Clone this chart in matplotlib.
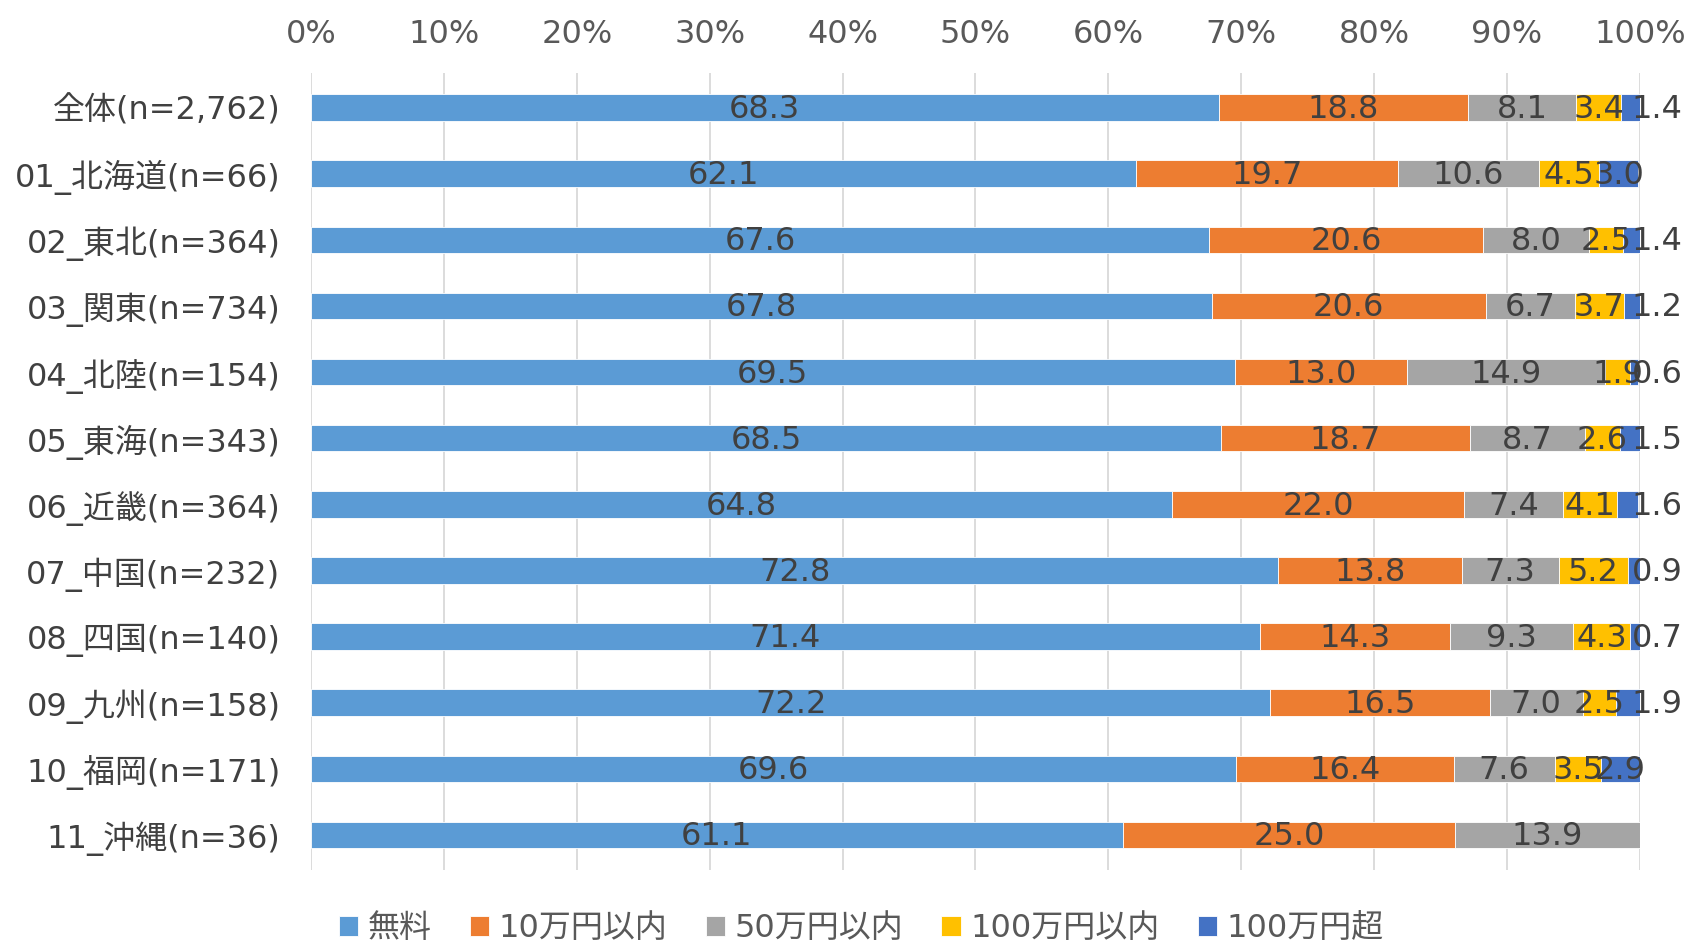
import matplotlib.pyplot as plt
import numpy as np

# DejaVu for Latin text, Noto CJK for the Japanese glyphs
plt.rcParams['font.family'] = ['DejaVu Sans', 'Noto Sans CJK JP']

regions = ["全体(n=2,762)", "01_北海道(n=66)", "02_東北(n=364)", "03_関東(n=734)",
           "04_北陸(n=154)", "05_東海(n=343)", "06_近畿(n=364)", "07_中国(n=232)",
           "08_四国(n=140)", "09_九州(n=158)", "10_福岡(n=171)", "11_沖縄(n=36)"]
series = ["無料", "10万円以内", "50万円以内", "100万円以内", "100万円超"]

free = [68.3, 62.1, 67.6, 67.8, 69.5, 68.5, 64.8, 72.8, 71.4, 72.2, 69.6, 61.1]
upto10 = [18.8, 19.7, 20.6, 20.6, 13.0, 18.7, 22.0, 13.8, 14.3, 16.5, 16.4, 25.0]
upto50 = [8.1, 10.6, 8.0, 6.7, 14.9, 8.7, 7.4, 7.3, 9.3, 7.0, 7.6, 13.9]
upto100 = [3.4, 4.5, 2.5, 3.7, 1.9, 2.6, 4.1, 5.2, 4.3, 2.5, 3.5, 0.0]
over100 = [1.4, 3.0, 1.4, 1.2, 0.6, 1.5, 1.6, 0.9, 0.7, 1.9, 2.9, 0.0]

colors = ["#5B9BD5", "#ED7D31", "#A5A5A5", "#FFC000", "#4472C4"]
FS = 23

fig = plt.figure(figsize=(16.94, 9.43), dpi=100)
ax = fig.add_axes([0.1836, 0.0774, 0.7844, 0.845])

y = np.arange(len(regions))
left = np.zeros(len(regions))
all_vals = [free, upto10, upto50, upto100, over100]
for k, (name, vals, c) in enumerate(zip(series, all_vals, colors)):
    vals = np.array(vals)
    ax.barh(y, vals, left=left, height=0.4, color=c, label=name,
            edgecolor="white", linewidth=0.6, zorder=3)
    for yi, l, v in zip(y, left, vals):
        if v <= 0:
            continue
        xc = l + v / 2
        # thin last segments: nudge the label out past the bar end
        if k == len(series) - 1 and v < 2.5:
            xc = max(xc, 101.3)
        ax.text(xc, yi + 0.03, f"{v:.1f}", ha="center", va="center",
                fontsize=FS, color="#404040", zorder=4)
    left += vals

ax.set_xlim(0, 100)
ax.set_ylim(len(regions) - 0.47, -0.52)
ax.set_yticks(y)
ax.set_yticklabels(regions, fontsize=FS, color="#404040")
ax.set_xticks(np.arange(0, 101, 10))
ax.set_xticklabels([f"{t}%" for t in range(0, 101, 10)], fontsize=FS, color="#595959")
ax.xaxis.tick_top()
ax.tick_params(axis="both", length=0)
ax.tick_params(axis="x", pad=17)
ax.tick_params(axis="y", pad=22)
ax.grid(axis="x", color="#D9D9D9", linewidth=1.3, zorder=0)
for s in ax.spines.values():
    s.set_visible(False)

ax.legend(loc="center", bbox_to_anchor=(0.414, -0.074), ncol=5, frameon=False,
          fontsize=FS, handlelength=0.6, handleheight=0.6, handletextpad=0.3,
          columnspacing=1.2, labelcolor="#595959", borderpad=0.1)

fig.savefig("out.png", dpi=100)
